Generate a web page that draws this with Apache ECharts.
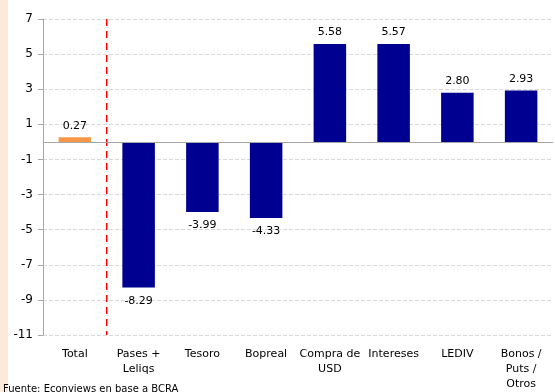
<!DOCTYPE html>
<html><head><meta charset="utf-8">
<script src="https://cdn.jsdelivr.net/npm/echarts@6/dist/echarts.min.js"></script>
<style>
html,body{margin:0;padding:0;background:#fff;}
#band{position:absolute;left:0;top:0;width:8px;height:392px;background:#fde9d9;}
#c{position:absolute;left:0;top:0;width:555px;height:392px;}
</style></head>
<body><div id="band"></div><div id="c"></div>
<script>
const categories = ['Total','Pases +\nLeliqs','Tesoro','Bopreal','Compra de\nUSD','Intereses','LEDIV','Bonos /\nPuts /\nOtros'];
const values = [0.27, -8.29, -3.99, -4.33, 5.58, 5.57, 2.80, 2.93];
const barColors = ['#f79646','#000090','#000090','#000090','#000090','#000090','#000090','#000090'];
const dividerX = [1, 1];
const dividerY = [7, -11];
const source = 'Fuente: Econviews en base a BCRA';

const font = 'DejaVu Sans';
const chart = echarts.init(document.getElementById('c'), null, {renderer:'canvas'});
chart.setOption({
  animation:false,
  textStyle:{fontFamily:font},
  grid:{left:43,right:2,top:19,bottom:55},
  graphic:[{type:'text',left:3,top:384,style:{text:source,fontSize:10,fill:'#000',fontFamily:font}}],
  xAxis:[{
    type:'category',data:categories,position:'bottom',
    axisLine:{show:false,onZero:false},axisTick:{show:false},
    axisLabel:{fontSize:11,color:'#000',lineHeight:15,margin:12,interval:0,fontFamily:font}
  },{
    type:'value',min:0,max:8,show:false
  }],
  yAxis:{
    type:'value',min:-11,max:7,interval:2,
    axisLine:{show:true,lineStyle:{color:'#a6a6a6'}},
    axisTick:{show:true,length:5,lineStyle:{color:'#a6a6a6'}},
    axisLabel:{fontSize:12,color:'#000',margin:10,fontFamily:font},
    splitLine:{lineStyle:{type:'dashed',color:'#d9d9d9'}}
  },
  series:[{
    type:'bar',
    data:values.map((v,i)=>({value:v,itemStyle:{color:barColors[i]},label:{position:v>=0?'top':'bottom',distance:v>=0?6:8}})),
    barWidth:'51%',
    label:{show:true,formatter:p=>p.value.toFixed(2),fontSize:11,color:'#000',fontFamily:font},
    markLine:{silent:true,symbol:'none',label:{show:false},lineStyle:{color:'#a6a6a6',type:'solid',width:1},data:[{yAxis:0}]}
  },{
    type:'line',xAxisIndex:1,data:dividerX.map((x,i)=>[x,dividerY[i]]),
    symbol:'none',lineStyle:{color:'#ff0000',type:[7,5],width:1.5},silent:true
  }]
});
</script></body></html>
